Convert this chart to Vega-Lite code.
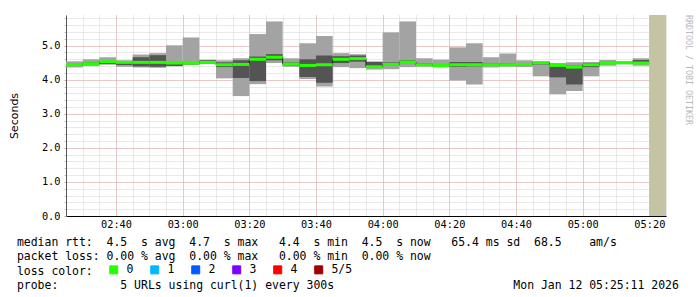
{
  "$schema": "https://vega.github.io/schema/vega-lite/v6.json",
  "width": 600,
  "height": 201,
  "autosize": {"type": "none"},
  "padding": {"left": 66, "top": 15, "right": 31, "bottom": 81},
  "background": "white",
  "config": {"view": {"stroke": null}},
  "title": {"text": "RRDTOOL / TOBI OETIKER", "orient": "right", "anchor": "start", "font": "DejaVu Sans Mono", "fontSize": 8.3, "fontWeight": "normal", "color": "#b8b8b8", "offset": 6},
  "resolve": {"axis": {"x": "independent", "y": "independent"}},
  "datasets": {
    "rtt": [
      {"t":"2026-01-12T02:25:00","t2":"2026-01-12T02:30:00","lo":4.36,"q1":4.41,"med":4.44,"q3":4.46,"hi":4.54,"loss":"0"},
      {"t":"2026-01-12T02:30:00","t2":"2026-01-12T02:35:00","lo":4.40,"q1":4.44,"med":4.47,"q3":4.51,"hi":4.60,"loss":"0"},
      {"t":"2026-01-12T02:35:00","t2":"2026-01-12T02:40:00","lo":4.44,"q1":4.46,"med":4.53,"q3":4.55,"hi":4.66,"loss":"0"},
      {"t":"2026-01-12T02:40:00","t2":"2026-01-12T02:45:00","lo":4.38,"q1":4.43,"med":4.51,"q3":4.55,"hi":4.57,"loss":"0"},
      {"t":"2026-01-12T02:45:00","t2":"2026-01-12T02:50:00","lo":4.36,"q1":4.39,"med":4.51,"q3":4.66,"hi":4.74,"loss":"0"},
      {"t":"2026-01-12T02:50:00","t2":"2026-01-12T02:55:00","lo":4.35,"q1":4.38,"med":4.51,"q3":4.72,"hi":4.78,"loss":"0"},
      {"t":"2026-01-12T02:55:00","t2":"2026-01-12T03:00:00","lo":4.40,"q1":4.40,"med":4.49,"q3":4.51,"hi":5.01,"loss":"0"},
      {"t":"2026-01-12T03:00:00","t2":"2026-01-12T03:05:00","lo":4.44,"q1":4.45,"med":4.49,"q3":4.51,"hi":5.24,"loss":"0"},
      {"t":"2026-01-12T03:05:00","t2":"2026-01-12T03:10:00","lo":4.46,"q1":4.48,"med":4.51,"q3":4.57,"hi":4.59,"loss":"0"},
      {"t":"2026-01-12T03:10:00","t2":"2026-01-12T03:15:00","lo":4.04,"q1":4.37,"med":4.44,"q3":4.51,"hi":4.57,"loss":"0"},
      {"t":"2026-01-12T03:15:00","t2":"2026-01-12T03:20:00","lo":3.52,"q1":4.05,"med":4.45,"q3":4.57,"hi":4.63,"loss":"0"},
      {"t":"2026-01-12T03:20:00","t2":"2026-01-12T03:25:00","lo":3.87,"q1":3.96,"med":4.60,"q3":4.68,"hi":5.34,"loss":"0"},
      {"t":"2026-01-12T03:25:00","t2":"2026-01-12T03:30:00","lo":4.49,"q1":4.57,"med":4.66,"q3":4.75,"hi":5.71,"loss":"0"},
      {"t":"2026-01-12T03:30:00","t2":"2026-01-12T03:35:00","lo":4.38,"q1":4.42,"med":4.46,"q3":4.51,"hi":4.63,"loss":"0"},
      {"t":"2026-01-12T03:35:00","t2":"2026-01-12T03:40:00","lo":4.02,"q1":4.08,"med":4.42,"q3":4.60,"hi":5.07,"loss":"0"},
      {"t":"2026-01-12T03:40:00","t2":"2026-01-12T03:45:00","lo":3.80,"q1":3.91,"med":4.44,"q3":4.71,"hi":5.28,"loss":"0"},
      {"t":"2026-01-12T03:45:00","t2":"2026-01-12T03:50:00","lo":4.37,"q1":4.49,"med":4.60,"q3":4.69,"hi":4.78,"loss":"0"},
      {"t":"2026-01-12T03:50:00","t2":"2026-01-12T03:55:00","lo":4.34,"q1":4.53,"med":4.62,"q3":4.71,"hi":4.75,"loss":"0"},
      {"t":"2026-01-12T03:55:00","t2":"2026-01-12T04:00:00","lo":4.30,"q1":4.37,"med":4.38,"q3":4.52,"hi":4.54,"loss":"0"},
      {"t":"2026-01-12T04:00:00","t2":"2026-01-12T04:05:00","lo":4.31,"q1":4.42,"med":4.45,"q3":4.51,"hi":5.39,"loss":"0"},
      {"t":"2026-01-12T04:05:00","t2":"2026-01-12T04:10:00","lo":4.37,"q1":4.49,"med":4.52,"q3":4.57,"hi":5.71,"loss":"0"},
      {"t":"2026-01-12T04:10:00","t2":"2026-01-12T04:15:00","lo":4.38,"q1":4.41,"med":4.44,"q3":4.49,"hi":4.63,"loss":"0"},
      {"t":"2026-01-12T04:15:00","t2":"2026-01-12T04:20:00","lo":4.36,"q1":4.41,"med":4.42,"q3":4.46,"hi":4.59,"loss":"0"},
      {"t":"2026-01-12T04:20:00","t2":"2026-01-12T04:25:00","lo":3.98,"q1":4.38,"med":4.44,"q3":4.52,"hi":4.95,"loss":"0"},
      {"t":"2026-01-12T04:25:00","t2":"2026-01-12T04:30:00","lo":3.86,"q1":4.39,"med":4.44,"q3":4.52,"hi":5.07,"loss":"0"},
      {"t":"2026-01-12T04:30:00","t2":"2026-01-12T04:35:00","lo":4.36,"q1":4.42,"med":4.44,"q3":4.48,"hi":4.66,"loss":"0"},
      {"t":"2026-01-12T04:35:00","t2":"2026-01-12T04:40:00","lo":4.38,"q1":4.41,"med":4.44,"q3":4.48,"hi":4.77,"loss":"0"},
      {"t":"2026-01-12T04:40:00","t2":"2026-01-12T04:45:00","lo":4.37,"q1":4.42,"med":4.45,"q3":4.48,"hi":4.57,"loss":"0"},
      {"t":"2026-01-12T04:45:00","t2":"2026-01-12T04:50:00","lo":4.10,"q1":4.45,"med":4.50,"q3":4.52,"hi":4.54,"loss":"0"},
      {"t":"2026-01-12T04:50:00","t2":"2026-01-12T04:55:00","lo":3.57,"q1":4.07,"med":4.42,"q3":4.42,"hi":4.49,"loss":"0"},
      {"t":"2026-01-12T04:55:00","t2":"2026-01-12T05:00:00","lo":3.67,"q1":3.86,"med":4.37,"q3":4.41,"hi":4.51,"loss":"0"},
      {"t":"2026-01-12T05:00:00","t2":"2026-01-12T05:05:00","lo":4.10,"q1":4.37,"med":4.44,"q3":4.50,"hi":4.51,"loss":"0"},
      {"t":"2026-01-12T05:05:00","t2":"2026-01-12T05:10:00","lo":4.41,"q1":4.46,"med":4.49,"q3":4.52,"hi":4.58,"loss":"0"},
      {"t":"2026-01-12T05:10:00","t2":"2026-01-12T05:15:00","lo":4.45,"q1":4.48,"med":4.50,"q3":4.52,"hi":4.54,"loss":"0"},
      {"t":"2026-01-12T05:15:00","t2":"2026-01-12T05:20:00","lo":4.41,"q1":4.48,"med":4.49,"q3":4.58,"hi":4.63,"loss":"0"}
    ],
    "unk": [
      {"t":"2026-01-12T05:20:00","t2":"2026-01-12T05:25:00","lo":0,"hi":5.9}
    ]
  },
  "layer": [
    {
      "data": {"name": "rtt"},
      "mark": {"type": "rect", "color": "#a3a3a3"},
      "encoding": {
        "x": {
          "field": "t", "type": "temporal",
          "scale": {"domain": [{"year": 2026, "month": 1, "date": 12, "hours": 2, "minutes": 25}, {"year": 2026, "month": 1, "date": 12, "hours": 5, "minutes": 25}], "nice": false},
          "axis": {"orient": "bottom", "title": null, "tickCount": 36, "labels": false, "ticks": false, "domain": false, "grid": true, "gridDash": [1, 1], "gridColor": "#d2d2d2"}
        },
        "x2": {"field": "t2"},
        "y": {
          "field": "lo", "type": "quantitative",
          "scale": {"domain": [0, 5.9], "nice": false, "zero": true},
          "axis": {"orient": "left", "title": null, "values": [0, 0.2, 0.4, 0.6, 0.8, 1, 1.2, 1.4, 1.6, 1.8, 2, 2.2, 2.4, 2.6, 2.8, 3, 3.2, 3.4, 3.6, 3.8, 4, 4.2, 4.4, 4.6, 4.8, 5, 5.2, 5.4, 5.6, 5.8], "labels": false, "ticks": true, "tickSize": 2, "tickColor": "#c4c4c4", "domain": false, "grid": true, "gridDash": [1, 1], "gridColor": "#d2d2d2"}
        },
        "y2": {"field": "hi"}
      }
    },
    {
      "data": {"name": "rtt"},
      "mark": {"type": "rect", "color": "#545454"},
      "encoding": {
        "x": {
          "field": "t", "type": "temporal",
          "axis": {
            "orient": "bottom",
            "values": [
              {"year": 2026, "month": 1, "date": 12, "hours": 2, "minutes": 40},
              {"year": 2026, "month": 1, "date": 12, "hours": 3, "minutes": 0},
              {"year": 2026, "month": 1, "date": 12, "hours": 3, "minutes": 20},
              {"year": 2026, "month": 1, "date": 12, "hours": 3, "minutes": 40},
              {"year": 2026, "month": 1, "date": 12, "hours": 4, "minutes": 0},
              {"year": 2026, "month": 1, "date": 12, "hours": 4, "minutes": 20},
              {"year": 2026, "month": 1, "date": 12, "hours": 4, "minutes": 40},
              {"year": 2026, "month": 1, "date": 12, "hours": 5, "minutes": 0},
              {"year": 2026, "month": 1, "date": 12, "hours": 5, "minutes": 20}
            ],
            "format": "%H:%M",
            "title": [
              "median\u00a0rtt:\u00a0\u00a04.5\u00a0\u00a0s\u00a0avg\u00a0\u00a04.7\u00a0\u00a0s\u00a0max\u00a0\u00a0\u00a04.4\u00a0\u00a0s\u00a0min\u00a0\u00a04.5\u00a0\u00a0s\u00a0now\u00a0\u00a0\u00a065.4\u00a0ms\u00a0sd\u00a0\u00a068.5\u00a0\u00a0\u00a0\u00a0am/s",
              "packet\u00a0loss:\u00a00.00\u00a0%\u00a0avg\u00a0\u00a00.00\u00a0%\u00a0max\u00a0\u00a0\u00a00.00\u00a0%\u00a0min\u00a0\u00a00.00\u00a0%\u00a0now",
              "loss\u00a0color:",
              "probe:\u00a0\u00a0\u00a0\u00a0\u00a0\u00a0\u00a0\u00a0\u00a05\u00a0URLs\u00a0using\u00a0curl(1)\u00a0every\u00a0300s\u00a0\u00a0\u00a0\u00a0\u00a0\u00a0\u00a0\u00a0\u00a0\u00a0\u00a0\u00a0\u00a0\u00a0\u00a0\u00a0\u00a0\u00a0\u00a0\u00a0\u00a0\u00a0\u00a0\u00a0\u00a0\u00a0Mon\u00a0Jan\u00a012\u00a005:25:11\u00a02026"
            ],
            "titleX": -49.6, "titleY": 29.5, "titleAlign": "left", "titleBaseline": "alphabetic",
            "titleFont": "DejaVu Sans Mono", "titleFontSize": 11.46, "titleFontWeight": "normal", "titleColor": "#000", "titleLineHeight": 14.3,
            "labelFont": "DejaVu Sans Mono", "labelFontSize": 10.3, "labelColor": "#000", "labelPadding": 3,
            "ticks": false, "domainColor": "#000", "domainWidth": 1,
            "grid": true, "gridDash": [1, 1], "gridColor": "#e0a6a6"
          }
        },
        "x2": {"field": "t2"},
        "y": {
          "field": "q1", "type": "quantitative",
          "axis": {
            "orient": "left",
            "values": [0, 1, 2, 3, 4, 5],
            "format": ".1f",
            "title": "Seconds", "titleFont": "DejaVu Sans", "titleFontSize": 11, "titleFontWeight": "normal", "titleColor": "#000", "titlePadding": 22,
            "labelFont": "DejaVu Sans Mono", "labelFontSize": 10.3, "labelColor": "#000", "labelPadding": 4,
            "tickSize": 2, "tickColor": "#e0a6a6",
            "domainColor": "#555", "domainWidth": 1,
            "grid": true, "gridDash": [1, 1], "gridColor": "#e0a6a6"
          }
        },
        "y2": {"field": "q3"}
      }
    },
    {
      "data": {"name": "unk"},
      "mark": {"type": "rect", "color": "#c4c4a4"},
      "encoding": {
        "x": {"field": "t", "type": "temporal", "axis": null},
        "x2": {"field": "t2"},
        "y": {"field": "lo", "type": "quantitative", "axis": null},
        "y2": {"field": "hi"}
      }
    },
    {
      "data": {"name": "rtt"},
      "mark": {"type": "line", "interpolate": "step-after", "color": "#202020", "strokeWidth": 1},
      "encoding": {
        "x": {"field": "t", "type": "temporal", "axis": null},
        "y": {"field": "med", "type": "quantitative", "axis": null}
      }
    },
    {
      "data": {"name": "rtt"},
      "mark": {"type": "rule", "strokeWidth": 3, "strokeCap": "butt"},
      "encoding": {
        "x": {"field": "t", "type": "temporal", "axis": null},
        "x2": {"field": "t2"},
        "y": {"field": "med", "type": "quantitative", "axis": null},
        "color": {
          "field": "loss", "type": "nominal",
          "scale": {"domain": ["0", "1", "2", "3", "4", "5/5"], "range": ["#26ff00", "#00b8ff", "#0059ff", "#7e00ff", "#ff0000", "#a10000"]},
          "legend": {
            "title": null, "orient": "none", "legendX": 42, "legendY": 249, "direction": "horizontal",
            "symbolType": "square", "symbolSize": 64, "symbolStrokeColor": "#000", "symbolStrokeWidth": 1,
            "labelFont": "DejaVu Sans Mono", "labelFontSize": 11.46, "labelColor": "#000", "labelOffset": 7, "columnPadding": 14, "padding": 0,
            "encode": {"symbols": {"update": {"fill": {"scale": "color", "field": "value"}, "stroke": {"value": "#000"}, "strokeWidth": {"value": 1}, "opacity": {"value": 1}}}}
          }
        }
      }
    }
  ]
}
